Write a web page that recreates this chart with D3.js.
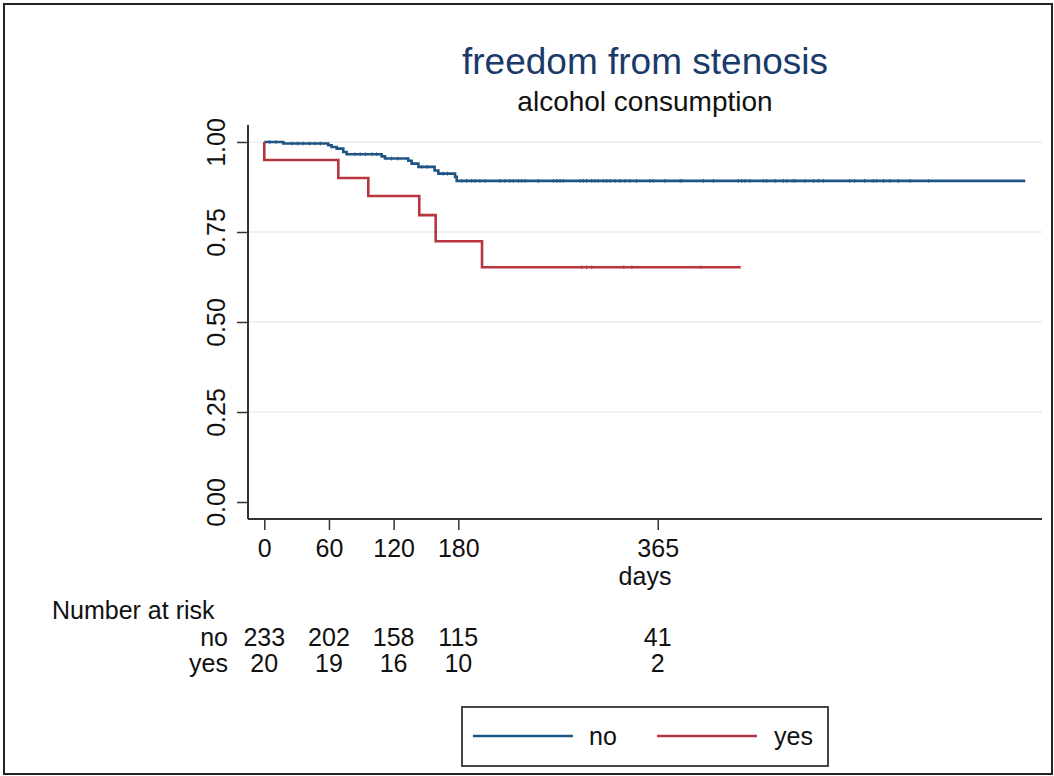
<!DOCTYPE html>
<html>
<head>
<meta charset="utf-8">
<script src="https://cdn.jsdelivr.net/npm/d3@7"></script>
<style>
  body { margin: 0; background: #fff; }
  svg { display: block; font-family: "Liberation Sans", Arial, sans-serif; }
</style>
</head>
<body>
<div id="chart"></div>
<script>
// survival steps (days, survivor function)
const noTimes = [0, 17.6, 59.4, 62.5, 67.2, 73.3, 76.4, 108.9, 112, 133.6, 136.7, 143, 158, 161.5, 177, 178.5];
const noSurv  = [1, 0.9957, 0.9908, 0.986, 0.9815, 0.972, 0.966, 0.960, 0.954, 0.948, 0.940, 0.931, 0.921, 0.912, 0.903, 0.892];
const noEnd = 706;
const noCensored = [5, 11, 26, 31, 36, 42, 47, 52, 84, 89, 94, 100, 104, 118, 124, 146, 151, 166, 170,
  183.2, 187.8, 192.4, 195.5, 200.1, 204.8, 218.7, 223.3, 228, 231, 235.7, 238.8, 241.9, 254.2,
  268.1, 271.3, 274.4, 277.4, 292.9, 296, 299.1, 303.8, 306.8, 309.9, 314.5, 317.7, 320.7, 325.4,
  330, 334.7, 339.3, 345.5, 357.9, 360.9, 371.8, 385.7, 387.3, 407.3, 416.6, 439.8, 443, 446,
  450.7, 463, 466.1, 473.9, 481.5, 484.7, 490.8, 492.4, 501.7, 509.4, 514, 518.7, 543.1, 547.7,
  557, 565, 568.2, 574.3, 580.5, 588.2, 599, 616.1];

const yesTimes = [0, 0, 68.7, 96.5, 143.8, 159, 202];
const yesSurv  = [1, 0.95, 0.90, 0.85, 0.797, 0.7245, 0.652];
const yesEnd = 442;
const yesCensored = [294.5, 299, 303.8, 333.5, 341, 405];

const riskTimes = [0, 60, 120, 180, 365];
const riskNo  = [233, 202, 158, 115, 41];
const riskYes = [20, 19, 16, 10, 2];
const xTicks = [0, 60, 120, 180, 365];
const yTicks = [0, 0.25, 0.5, 0.75, 1];
const groups = ["no", "yes"];

const W = 1054, H = 776;
const colors = { no: "#1f5485", yes: "#b8353f" };

const svg = d3.select("#chart").append("svg")
  .attr("width", W).attr("height", H);

// outer frame
svg.append("rect")
  .attr("x", 4).attr("y", 4).attr("width", W - 6).attr("height", H - 6)
  .attr("fill", "none").attr("stroke", "#222").attr("stroke-width", 2);

const plot = { left: 248, right: 1042, top: 125, bottom: 519 };

const x = d3.scaleLinear().domain([-15.1, 721.5]).range([plot.left, plot.right]);
const y = d3.scaleLinear().domain([-0.0472, 1.0472]).range([plot.bottom, plot.top]);

// grid
svg.append("g").selectAll("line")
  .data(yTicks.filter(d => d > 0))
  .join("line")
  .attr("x1", plot.left).attr("x2", plot.right)
  .attr("y1", d => y(d)).attr("y2", d => y(d))
  .attr("stroke", "#e3eef1").attr("stroke-width", 1.5);

// axes
const yAxis = d3.axisLeft(y).tickValues(yTicks).tickFormat(d3.format(".2f")).tickSize(11).tickPadding(12);
const gy = svg.append("g").attr("transform", `translate(${plot.left},0)`).call(yAxis);
gy.select(".domain").attr("d", `M0,${plot.top}V${plot.bottom}`).attr("stroke", "#333").attr("stroke-width", 2);
gy.selectAll(".tick line").attr("stroke", "#333").attr("stroke-width", 1.5);
gy.selectAll(".tick text")
  .attr("font-size", 25).attr("fill", "#111")
  .attr("transform", "rotate(-90)")
  .attr("x", 0).attr("y", -23).attr("dy", 0)
  .attr("text-anchor", "middle");

const xAxis = d3.axisBottom(x).tickValues(xTicks).tickSize(11).tickPadding(9);
const gx = svg.append("g").attr("transform", `translate(0,${plot.bottom})`).call(xAxis);
gx.select(".domain").attr("d", `M${plot.left},0H${plot.right}`).attr("stroke", "#333").attr("stroke-width", 2);
gx.selectAll(".tick line").attr("stroke", "#333").attr("stroke-width", 1.5);
gx.selectAll(".tick text").attr("font-size", 25).attr("fill", "#111");

svg.append("text")
  .attr("x", (plot.left + plot.right) / 2).attr("y", 585)
  .attr("text-anchor", "middle").attr("font-size", 25).attr("fill", "#111")
  .text("days");

// titles
svg.append("text")
  .attr("x", (plot.left + plot.right) / 2).attr("y", 74)
  .attr("text-anchor", "middle").attr("font-size", 37).attr("fill", "#1a3b6a")
  .text("freedom from stenosis");
svg.append("text")
  .attr("x", (plot.left + plot.right) / 2).attr("y", 111)
  .attr("text-anchor", "middle").attr("font-size", 28).attr("fill", "#111")
  .text("alcohol consumption");

// survival curves
const line = d3.line().x(d => x(d[0])).y(d => y(d[1])).curve(d3.curveStepAfter);

function curvePoints(times, surv, end) {
  const pts = times.map((t, i) => [t, surv[i]]);
  pts.push([end, surv[surv.length - 1]]);
  return pts;
}
function survAt(times, surv, t) {
  let s = surv[0];
  times.forEach((tt, i) => { if (tt <= t) s = surv[i]; });
  return s;
}

const series = [
  { key: "no", times: noTimes, surv: noSurv, end: noEnd, cens: noCensored },
  { key: "yes", times: yesTimes, surv: yesSurv, end: yesEnd, cens: yesCensored }
];

series.forEach(s => {
  svg.append("path")
    .datum(curvePoints(s.times, s.surv, s.end))
    .attr("d", line)
    .attr("fill", "none")
    .attr("stroke", colors[s.key])
    .attr("stroke-width", 2.6);

  // censoring marks, tiny like the original
  svg.append("g").selectAll("line")
    .data(s.cens)
    .join("line")
    .attr("x1", d => x(d)).attr("x2", d => x(d))
    .attr("y1", d => y(survAt(s.times, s.surv, d)) - 2)
    .attr("y2", d => y(survAt(s.times, s.surv, d)) + 2)
    .attr("stroke", colors[s.key]).attr("stroke-width", 1)
    .attr("opacity", 0.8);
});

// number at risk table
svg.append("text")
  .attr("x", 52).attr("y", 619)
  .attr("font-size", 25).attr("fill", "#111")
  .text("Number at risk");

const riskRows = [riskNo, riskYes];
groups.forEach((g, gi) => {
  const rowY = 646 + gi * 26;
  svg.append("text")
    .attr("x", 228).attr("y", rowY)
    .attr("text-anchor", "end").attr("font-size", 25).attr("fill", "#111")
    .text(g);
  svg.append("g").selectAll("text")
    .data(riskRows[gi])
    .join("text")
    .attr("x", (d, i) => x(riskTimes[i])).attr("y", rowY)
    .attr("text-anchor", "middle").attr("font-size", 25).attr("fill", "#111")
    .text(d => d);
});

// legend
const leg = svg.append("g");
leg.append("rect")
  .attr("x", 462).attr("y", 707).attr("width", 366).attr("height", 59)
  .attr("fill", "#fff").attr("stroke", "#333").attr("stroke-width", 1.8);
const legItems = [
  { key: "no", x0: 473, x1: 573, tx: 589, anchor: "start" },
  { key: "yes", x0: 657, x1: 757, tx: 813, anchor: "end" }
];
legItems.forEach(it => {
  leg.append("line")
    .attr("x1", it.x0).attr("x2", it.x1).attr("y1", 736).attr("y2", 736)
    .attr("stroke", colors[it.key]).attr("stroke-width", 2.6);
  leg.append("text")
    .attr("x", it.tx).attr("y", 745)
    .attr("text-anchor", it.anchor).attr("font-size", 25).attr("fill", "#111")
    .text(it.key);
});
</script>
</body>
</html>
